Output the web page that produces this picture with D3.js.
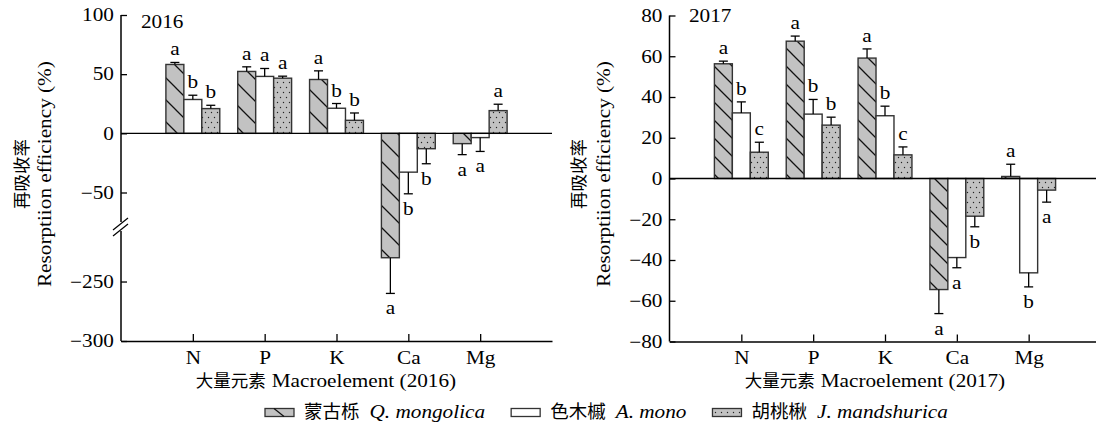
<!DOCTYPE html>
<html>
<head>
<meta charset="utf-8">
<script src="https://cdn.jsdelivr.net/npm/d3@7"></script>
<style>
  html, body { margin: 0; padding: 0; background: #fff; }
  svg { display: block; }
</style>
</head>
<body>
<svg id="chart" width="1096" height="432"></svg>
<script>
// ---- data ---------------------------------------------------------------
const categories = ["N", "P", "K", "Ca", "Mg"];
const speciesCn = ["蒙古栎", "色木槭", "胡桃楸"];
const speciesLatin = ["Q. mongolica", "A. mono", "J. mandshurica"];

// 2016 resorption efficiency (%), mean and standard error
const qm2016 = [58.2, 52.3, 45.5, -230.0, -8.7];
const qm2016Se = [1.7, 3.9, 7.3, 30.0, 9.3];
const am2016 = [28.6, 48.1, 21.2, -32.8, -3.6];
const am2016Se = [3.6, 6.7, 4.0, 18.3, 11.7];
const jm2016 = [20.9, 46.6, 11.0, -13.0, 19.2];
const jm2016Se = [2.8, 1.7, 6.2, 12.7, 5.4];
const qm2016Sig = ["a", "a", "a", "a", "a"];
const am2016Sig = ["b", "a", "b", "b", "a"];
const jm2016Sig = ["b", "a", "b", "b", "a"];

// 2017 resorption efficiency (%), mean and standard error
const qm2017 = [56.3, 67.4, 59.1, -54.5, 1.0];
const qm2017Se = [1.3, 2.5, 4.5, 11.8, 6.0];
const am2017 = [32.2, 31.6, 30.8, -38.8, -46.3];
const am2017Se = [5.4, 7.2, 4.7, 5.0, 6.9];
const jm2017 = [12.9, 26.2, 11.6, -18.5, -5.7];
const jm2017Se = [4.9, 3.9, 3.9, 5.2, 5.9];
const qm2017Sig = ["a", "a", "a", "a", "a"];
const am2017Sig = ["b", "b", "b", "a", "b"];
const jm2017Sig = ["c", "b", "c", "b", "a"];

const ticks2016 = [100, 50, 0, -50, -250, -300];
const ticks2017 = [80, 60, 40, 20, 0, -20, -40, -60, -80];

// ---- styling --------------------------------------------------------------
const SERIF = "'Liberation Serif','Times New Roman',serif";
const CJK = "'Noto Sans CJK SC','Noto Sans CJK JP',sans-serif";
const FS = 18;        // latin text size
const CJK_FS = 17.5;  // chinese text size
const SX = 1.18;      // horizontal widening of the serif glyphs
const GREY = "#c2c2c2";

const svg = d3.select("#chart");
const defs = svg.append("defs");

function hatchPattern(id, s) {
  const p = defs.append("pattern").attr("id", id)
    .attr("patternUnits", "userSpaceOnUse").attr("width", s).attr("height", s);
  p.append("rect").attr("width", s).attr("height", s).attr("fill", GREY);
  p.append("path").attr("d", `M0,0L${s},${s}M-2,${s - 2}L2,${s + 2}M${s - 2},-2L${s + 2},2`)
    .attr("stroke", "#111").attr("stroke-width", 1.3).attr("stroke-linecap", "square");
}
hatchPattern("hatch16", 22);
hatchPattern("hatch17", 18);

const dots = defs.append("pattern").attr("id", "dots")
  .attr("patternUnits", "userSpaceOnUse").attr("width", 6).attr("height", 10);
dots.append("rect").attr("width", 6).attr("height", 10).attr("fill", GREY);
dots.append("circle").attr("cx", 1.5).attr("cy", 2.5).attr("r", 0.7).attr("fill", "#222");
dots.append("circle").attr("cx", 4.5).attr("cy", 7.5).attr("r", 0.7).attr("fill", "#222");

// Lays out a run of text pieces (serif pieces widened, CJK pieces not).
function richText(parent, x, y, parts, anchor = "start", rotate = 0) {
  const g = parent.append("g").attr("transform", `translate(${x},${y}) rotate(${rotate})`);
  let off = 0;
  const items = [];
  parts.forEach(p => {
    const sg = g.append("g");
    const t = sg.append("text").text(p.text)
      .attr("font-family", p.cjk ? CJK : SERIF)
      .attr("font-size", p.size || (p.cjk ? CJK_FS : FS))
      .attr("font-style", p.italic ? "italic" : "normal")
      .attr("fill", "#000");
    const sx = p.cjk ? 1 : SX;
    const w = t.node().getComputedTextLength() * sx;
    items.push({ sg, off, sx });
    off += w + (p.gap || 0);
  });
  const shift = anchor === "middle" ? -off / 2 : anchor === "end" ? -off : 0;
  items.forEach(it => it.sg.attr("transform", `translate(${it.off + shift},0) scale(${it.sx},1)`));
  return off;
}

function drawPanel(cfg) {
  const g = svg.append("g");
  const x = d3.scalePoint().domain(categories).range([cfg.x0, cfg.x1]).padding(1);
  const bw = x.step() * 0.25;
  const y = cfg.y;
  const fills = [`url(#${cfg.hatch})`, "#fff", "url(#dots)"];

  // bars
  cfg.series.forEach((s, si) => {
    g.append("g").selectAll("rect").data(s.values).join("rect")
      .attr("x", (d, i) => x(categories[i]) + (si - 1.5) * bw)
      .attr("width", bw)
      .attr("y", d => Math.min(y(d), y(0)))
      .attr("height", d => Math.abs(y(d) - y(0)))
      .attr("fill", fills[si])
      .attr("stroke", "#333").attr("stroke-width", 1.4);
  });

  // zero line
  g.append("line").attr("x1", cfg.x0).attr("x2", cfg.x1)
    .attr("y1", y(0)).attr("y2", y(0))
    .attr("stroke", "#000").attr("stroke-width", 1.3);

  // error bars and significance letters
  cfg.series.forEach((s, si) => {
    s.values.forEach((v, i) => {
      const cx = x(categories[i]) + (si - 1) * bw;
      const end = v >= 0 ? v + s.se[i] : v - s.se[i];
      const ye = y(end);
      g.append("line").attr("x1", cx).attr("x2", cx).attr("y1", y(v)).attr("y2", ye)
        .attr("stroke", "#000").attr("stroke-width", 1.3);
      g.append("line").attr("x1", cx - 4.5).attr("x2", cx + 4.5).attr("y1", ye).attr("y2", ye)
        .attr("stroke", "#000").attr("stroke-width", 1.3);
      const ly = v >= 0 ? ye - 7 : ye + 21;
      richText(g, cx, ly, [{ text: s.sig[i] }], "middle");
    });
  });

  // x axis
  const xa = g.append("g").attr("transform", `translate(0,${cfg.yBottom})`)
    .call(d3.axisBottom(x).tickSizeInner(-7).tickSizeOuter(0).tickPadding(10));
  xa.attr("font-family", SERIF).attr("font-size", FS);
  xa.select(".domain").attr("stroke-width", 1.5);
  xa.selectAll(".tick line").attr("stroke-width", 1.3);
  xa.selectAll(".tick text").attr("transform", `scale(${SX},1)`).attr("fill", "#000");

  // y axis
  const ya = g.append("g").attr("transform", `translate(${cfg.x0},0)`)
    .call(d3.axisLeft(y).tickValues(cfg.ticks).tickFormat(d3.format("d"))
      .tickSizeInner(-6).tickSizeOuter(0).tickPadding(6));
  ya.attr("font-family", SERIF).attr("font-size", FS);
  ya.select(".domain").remove();
  ya.selectAll(".tick line").attr("stroke-width", 1.3);
  ya.selectAll(".tick text").attr("transform", `scale(${SX},1)`).attr("fill", "#000");

  const top = y(cfg.ticks[0]);
  const bottom = cfg.yBottom;
  if (cfg.breakY) {
    const b = cfg.breakY;
    g.append("line").attr("x1", cfg.x0).attr("x2", cfg.x0).attr("y1", top).attr("y2", b - 5)
      .attr("stroke", "#000").attr("stroke-width", 1.5);
    g.append("line").attr("x1", cfg.x0).attr("x2", cfg.x0).attr("y1", b + 4).attr("y2", bottom)
      .attr("stroke", "#000").attr("stroke-width", 1.5);
    [-3, 3].forEach(o => {
      g.append("line").attr("x1", cfg.x0 - 8).attr("y1", b + o + 6)
        .attr("x2", cfg.x0 + 7).attr("y2", b + o - 6)
        .attr("stroke", "#000").attr("stroke-width", 1.2);
    });
  } else {
    g.append("line").attr("x1", cfg.x0).attr("x2", cfg.x0).attr("y1", top).attr("y2", bottom)
      .attr("stroke", "#000").attr("stroke-width", 1.5);
  }

  // year tag
  richText(g, cfg.yearX, cfg.yearY, [{ text: cfg.year }]);

  // axis titles
  richText(g, cfg.titleX, 387, [
    { text: "大量元素", cjk: true, gap: 6 },
    { text: `Macroelement (${cfg.year})` }
  ], "middle");
  richText(g, cfg.cnLabelX, 174, [{ text: "再吸收率", cjk: true }], "middle", -90);
  richText(g, cfg.enLabelX, 174, [{ text: "Resorptiion efficiency (%)" }], "middle", -90);
}

const y2016 = d3.scaleLinear()
  .domain([-300, -205, -80, 100])
  .range([341, 228, 228, 15]);
const y2017 = d3.scaleLinear().domain([-80, 80]).range([341.5, 15.5]);

drawPanel({
  year: "2016", x0: 121, x1: 552, y: y2016, yBottom: 341, ticks: ticks2016,
  breakY: 227, hatch: "hatch16",
  yearX: 141, yearY: 28, titleX: 326, cnLabelX: 28, enLabelX: 51,
  series: [
    { values: qm2016, se: qm2016Se, sig: qm2016Sig },
    { values: am2016, se: am2016Se, sig: am2016Sig },
    { values: jm2016, se: jm2016Se, sig: jm2016Sig }
  ]
});

drawPanel({
  year: "2017", x0: 669.5, x1: 1100.5, y: y2017, yBottom: 341.5, ticks: ticks2017,
  breakY: null, hatch: "hatch17",
  yearX: 689, yearY: 21.5, titleX: 875, cnLabelX: 585, enLabelX: 610,
  series: [
    { values: qm2017, se: qm2017Se, sig: qm2017Sig },
    { values: am2017, se: am2017Se, sig: am2017Sig },
    { values: jm2017, se: jm2017Se, sig: jm2017Sig }
  ]
});

// legend
const legend = svg.append("g");
const legendFills = [GREY, "#fff", "url(#dots)"];
let lx = 265;
speciesCn.forEach((cn, i) => {
  legend.append("rect").attr("x", lx).attr("y", 408.5).attr("width", 29).attr("height", 8)
    .attr("fill", legendFills[i])
    .attr("stroke", "#333").attr("stroke-width", 1.3);
  if (i === 0) {
    legend.append("line").attr("x1", lx + 9).attr("y1", 408.5).attr("x2", lx + 19).attr("y2", 416.5)
      .attr("stroke", "#111").attr("stroke-width", 1.3);
  }
  lx += 39;
  const w = richText(legend, lx, 418, [
    { text: cn, cjk: true, size: 18.5, gap: 10 },
    { text: speciesLatin[i], italic: true }
  ]);
  lx += w + 26;
});
</script>
</body>
</html>
